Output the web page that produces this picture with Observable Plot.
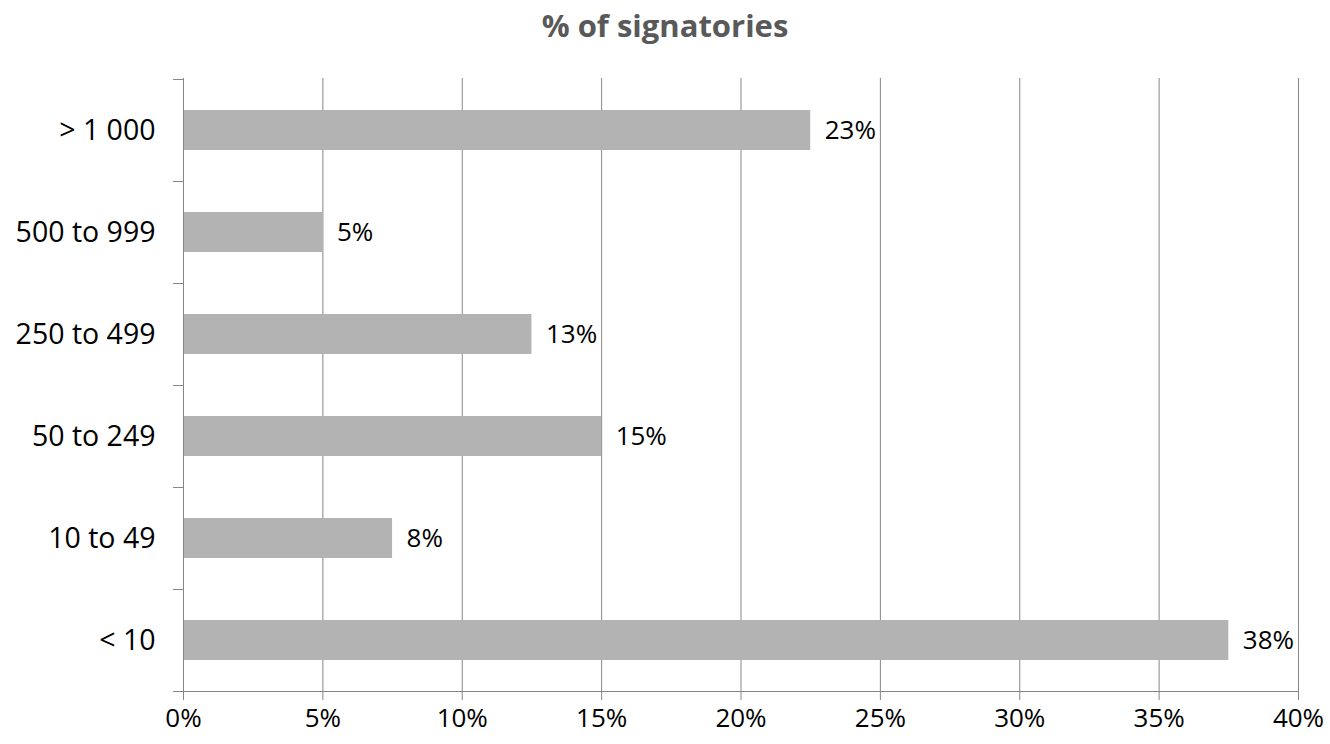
<!DOCTYPE html>
<html>
<head>
<meta charset="utf-8">
<script src="https://cdn.jsdelivr.net/npm/d3@7"></script>
<script src="https://cdn.jsdelivr.net/npm/@observablehq/plot@0.6"></script>
<style>
  html, body { margin: 0; padding: 0; background: #fff; }
  #title {
    height: 50px; line-height: 50px; text-align: center;
    font-family: "Open Sans", sans-serif; font-weight: 700; font-size: 31px;
    color: #595959;
  }
</style>
</head>
<body>
<div id="title">% of signatories</div>
<div id="chart"></div>
<script>
// Company size bands (number of employees), top to bottom
const categories = ["> 1 000", "500 to 999", "250 to 499", "50 to 249", "10 to 49", "< 10"];
// Share of signatories in each band, percent
const shares = [22.5, 5, 12.5, 15, 7.5, 37.5];
// Horizontal axis ticks, percent
const xTicks = [0, 5, 10, 15, 20, 25, 30, 35, 40];

const rows = categories.map((c, i) => ({size: c, share: shares[i]}));

const gridColor = "#868686";
const fontFamily = "'Open Sans', sans-serif";

// Short ticks on the category axis at each band boundary, plus the baseline
function bandBoundaries(index, scales) {
  const {x, y} = scales;
  const bw = y.bandwidth();
  const x0 = x(0);
  const edges = categories.map(c => y(c)).concat([y(categories[categories.length - 1]) + bw]);
  const g = d3.create("svg:g").attr("stroke", gridColor).attr("stroke-width", 1);
  g.selectAll("line.tick").data(edges).join("line")
    .attr("x1", x0 - 10).attr("x2", x0)
    .attr("y1", d => Math.round(d) + 0.5).attr("y2", d => Math.round(d) + 0.5);
  const yb = Math.round(edges[edges.length - 1]) + 0.5;
  g.append("line").attr("x1", x0 - 10).attr("x2", x(40)).attr("y1", yb).attr("y2", yb);
  return g.node();
}

const chart = Plot.plot({
  width: 1330,
  height: 694,
  marginTop: 28,
  marginBottom: 52,
  marginLeft: 183,
  marginRight: 32,
  style: {fontFamily, fontSize: "26px", color: "#000", background: "#fff"},
  x: {domain: [0, 40], ticks: xTicks},
  y: {domain: categories, padding: 0},
  marks: [
    Plot.gridX(xTicks.filter(t => t > 0), {stroke: gridColor, strokeOpacity: 1}),
    Plot.barX(rows, {y: "size", x: "share", fill: "#b3b3b3", insetTop: 31, insetBottom: 31}),
    Plot.ruleX([0], {stroke: gridColor}),
    bandBoundaries,
    Plot.axisX({ticks: xTicks, tickFormat: d => d + "%", tickSize: 8, tickPadding: 8,
      stroke: gridColor, fill: "#000", fontSize: 26, label: null}),
    Plot.axisY({tickSize: 0, tickPadding: 28, fontSize: 28.5, fill: "#000", label: null}),
    Plot.text(rows, {y: "size", x: "share", text: d => Math.round(d.share) + "%",
      textAnchor: "start", dx: 14, fontSize: 26, fill: "#000"})
  ]
});

document.getElementById("chart").appendChild(chart);
</script>
</body>
</html>
